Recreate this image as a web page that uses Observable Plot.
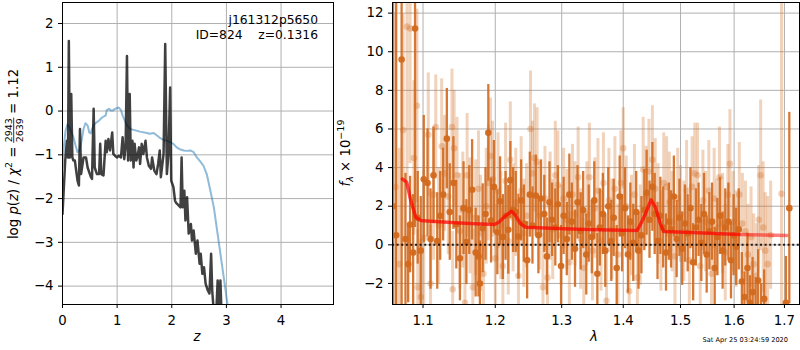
<!DOCTYPE html>
<html><head><meta charset="utf-8">
<script src="https://cdn.jsdelivr.net/npm/d3@7"></script>
<script src="https://cdn.jsdelivr.net/npm/@observablehq/plot@0.6"></script>
<style>
body{margin:0;background:#fff;}
#wrap{position:relative;width:800px;height:350px;background:#fff;}
#wrap svg{position:absolute;top:0;}
</style></head><body><div id="wrap"></div>
<script>
// ---------- Left panel: log p(z) ----------
const zTicks = [0, 1, 2, 3, 4];
const pzTicks = [-4, -3, -2, -1, 0, 1, 2];
const zPdf = [0,0.05,0.08,0.10,0.116,0.134,0.16,0.18,0.20,0.226,
  0.275,0.30,0.32,0.34,0.385,0.43,0.46,0.49,0.52,0.54,
  0.57,0.59,0.63,0.67,0.69,0.71,0.75,0.79,0.81,0.84,
  0.87,0.91,0.93,0.96,1.00,1.03,1.07,1.10,1.13,1.155,
  1.18,1.20,1.23,1.25,1.28,1.30,1.32,1.35,1.37,1.40,
  1.42,1.45,1.48,1.52,1.545,1.58,1.62,1.64,1.68,1.72,
  1.75,1.78,1.80,1.85,1.88,1.91,1.94,1.97,1.99,2.03,
  2.06,2.08,2.13,2.16,2.18,2.20,2.23,2.25,2.28,2.31,
  2.35,2.37,2.40,2.44,2.47,2.51,2.53,2.56,2.59,2.62,
  2.66,2.69,2.72,2.74,2.77,2.80,2.84,2.86,2.89,2.92];
const logPz = [-2.35,-1.13,-0.68,-1.06,1.6,-1.06,0.39,-1.06,-1.13,-1.13,
  -1.59,-1.7,-0.41,-1.44,-1.06,-1.06,-1.29,-1.4,-1.51,-1.55,
  0.05,-1.29,-1.44,-1.44,-0.75,-1.44,-1.47,-0.68,-0.94,-0.64,
  -0.9,-0.49,-0.98,-1.02,-1.06,-1.02,-1.06,-0.6,-1.1,-0.83,
  1.26,-1.13,0.39,-1.13,-0.68,-1.29,-0.75,-1.13,-1.06,-0.83,
  -1.21,-0.75,-0.98,-0.68,-1.06,-1.25,-1.32,-1.06,-1.36,-1.44,
  -1.21,-0.9,-1.51,-0.98,1.53,-1.44,-0.98,0.54,-1.59,-1.74,
  -2.05,-2.1,-2.16,-2.2,-1.06,-2.2,-1.82,-2.5,-1.97,-2.8,
  -2.58,-2.96,-2.73,-3.26,-2.96,-3.49,-3.26,-3.72,-3.57,-3.95,
  -4.1,-4.17,-3.26,-4.1,-4.6,-5.0,-3.87,-4.6,-3.87,-5.0];
const zChi = [0,0.03,0.055,0.09,0.13,0.165,0.2,0.24,0.275,0.31,
  0.35,0.385,0.42,0.46,0.49,0.52,0.54,0.58,0.62,0.67,
  0.71,0.75,0.79,0.81,0.85,0.89,0.92,0.96,1.0,1.03,
  1.07,1.1,1.14,1.18,1.24,1.3,1.42,1.545,1.6,1.67,
  1.73,1.79,1.85,1.91,1.97,2.03,2.09,2.16,2.22,2.28,
  2.34,2.4,2.46,2.52,2.58,2.64,2.7,2.77,2.83,2.89,
  2.95,3.01,3.05];
const chiPz = [-1.29,-0.75,-0.45,-0.31,-0.37,-0.49,-0.6,-0.79,-0.94,-0.9,
  -0.68,-0.41,-0.28,-0.33,-0.49,-0.51,-0.41,-0.31,-0.26,-0.22,
  -0.16,-0.13,-0.1,0.02,0.05,0.01,0.01,0.05,0.07,0.08,
  0.02,-0.1,-0.22,-0.33,-0.41,-0.43,-0.47,-0.5,-0.52,-0.5,
  -0.56,-0.62,-0.66,-0.68,-0.71,-0.75,-0.83,-0.88,-0.9,-0.91,
  -0.9,-0.94,-1.06,-1.15,-1.25,-1.44,-1.78,-2.2,-2.73,-3.26,
  -3.79,-4.33,-4.63];

// ---------- Right panel: spectrum ----------
const lamTicks = [1.1, 1.2, 1.3, 1.4, 1.5, 1.6, 1.7];
const fluxTicks = [-2, 0, 2, 4, 6, 8, 10, 12];
const darkLam = [1.061,1.065,1.072,1.077,1.0805,1.083,1.087,1.0895,1.093,1.097,
  1.101,1.106,1.110,1.114,1.119,1.123,1.127,1.132,1.136,1.141,
  1.145,1.150,1.155,1.159,1.163,1.167,1.172,1.176,1.178,1.182,
  1.186,1.190,1.194,1.198,1.203,1.207,1.211,1.215,1.219,1.222,
  1.226,1.230,1.234,1.238,1.242,1.247,1.251,1.255,1.260,1.264,
  1.268,1.273,1.277,1.281,1.285,1.290,1.294,1.299,1.303,1.308,
  1.312,1.316,1.321,1.325,1.330,1.334,1.339,1.343,1.348,1.352,
  1.357,1.361,1.366,1.370,1.375,1.380,1.384,1.389,1.394,1.398,
  1.403,1.408,1.412,1.417,1.422,1.426,1.431,1.436,1.440,1.445,
  1.450,1.454,1.459,1.464,1.469,1.474,1.479,1.483,1.488,1.493,
  1.498,1.503,1.508,1.513,1.518,1.523,1.528,1.533,1.538,1.543,
  1.548,1.553,1.558,1.563,1.568,1.573,1.578,1.583,1.589,1.594,
  1.599,1.604,1.609,1.615,1.620,1.626,1.631,1.636,1.642,1.647,
  1.653,1.659,1.703,1.710];
const darkFlux = [2.0,0.5,9.6,0.3,-1.0,1.05,-0.4,11.2,1.4,-0.3,
  3.4,3.2,0.3,3.6,0.2,1.5,2.6,5.5,1.7,3.2,
  1.05,-0.7,1.9,0.14,1.8,2.85,-0.4,-0.6,-2.0,0.86,
  1.6,5.8,1.26,3.0,0.65,2.26,0.4,1.5,0.78,3.35,
  1.8,1.7,0.43,2.3,1.1,-0.8,2.6,1.0,2.55,0.5,
  2.4,1.6,-0.6,2.2,1.3,0.9,2.1,-1.1,1.5,0.3,
  2.6,1.2,-0.2,2.2,0.7,1.8,-0.5,1.1,0.4,2.3,
  -1.5,0.9,1.6,-0.3,2.0,0.2,1.4,-1.2,2.5,0.6,
  1.9,-0.5,1.2,0.1,1.7,-0.3,0.5,1.8,2.7,1.3,
  3.0,1.6,0.2,1.5,0.9,-0.4,1.2,0.8,2.5,0.3,
  1.4,-0.2,1.1,0.6,1.9,-0.9,0.9,1.3,0.1,1.6,
  -0.5,0.7,1.2,-1.2,0.4,1.5,-0.3,0.9,1.2,-0.8,
  0.5,-0.1,0.8,-1.9,-2.7,-1.2,-3.0,-2.45,-3.3,-1.85,
  -3.5,-2.8,-3.0,1.9];
const darkErr = [20,15,14,3.4,2.0,2.5,3.0,10.3,2.4,2.8,
  3.3,2.8,2.6,2.5,2.5,2.3,2.4,2.6,2.5,2.4,
  2.3,2.2,2.4,2.2,2.3,2.6,2.3,2.1,2.2,2.3,
  2.4,2.5,2.2,2.4,2.2,2.3,2.2,2.3,2.3,2.0,
  2.2,2.1,2.2,2.1,2.0,2.0,2.2,2.0,2.1,2.0,
  2.0,2.0,2.0,2.1,1.9,2.0,2.0,2.1,2.0,1.9,
  2.1,2.0,2.0,1.9,2.0,2.0,2.1,2.0,1.9,2.0,
  2.1,2.0,2.1,1.9,2.0,2.1,2.0,2.2,2.1,2.0,
  2.1,2.0,2.0,2.0,2.1,2.0,2.0,2.1,2.2,2.0,
  2.3,2.1,2.0,2.0,2.1,2.0,2.0,2.0,2.1,2.0,
  2.0,1.9,2.0,2.0,2.1,2.0,2.0,1.9,2.0,2.1,
  2.0,2.0,2.0,2.1,2.0,2.0,2.0,2.0,2.0,2.0,
  2.1,2.0,2.1,1.5,1.3,1.8,1.4,1.8,1.6,1.6,
  1.5,1.5,2.4,4.96];
const lightLam = [1.064,1.069,1.074,1.079,1.083,1.088,1.092,1.093,1.097,1.101,
  1.107,1.110,1.114,1.117,1.121,1.125,1.129,1.134,1.139,1.140,
  1.142,1.146,1.150,1.154,1.157,1.160,1.164,1.168,1.172,1.176,
  1.179,1.183,1.187,1.190,1.193,1.196,1.200,1.204,1.208,1.211,
  1.215,1.219,1.222,1.226,1.230,1.234,1.238,1.242,1.246,1.252,
  1.255,1.258,1.262,1.266,1.271,1.274,1.278,1.282,1.286,1.290,
  1.294,1.299,1.303,1.308,1.312,1.317,1.321,1.326,1.330,1.335,
  1.340,1.344,1.349,1.353,1.358,1.363,1.367,1.372,1.376,1.381,
  1.386,1.391,1.396,1.400,1.405,1.410,1.414,1.419,1.424,1.429,
  1.434,1.439,1.444,1.450,1.455,1.460,1.465,1.470,1.475,1.480,
  1.485,1.490,1.495,1.500,1.506,1.511,1.516,1.521,1.526,1.531,
  1.536,1.541,1.546,1.552,1.557,1.562,1.567,1.572,1.578,1.583,
  1.588,1.592,1.598,1.604,1.610,1.616,1.622,1.627,1.633,1.638,
  1.644,1.648,1.652,1.657,1.661,1.666,1.672,1.694];
const lightFlux = [3.0,-1.0,5.95,11.3,11.2,4.5,7.2,-2.2,-2.7,0.36,
  5.7,-2.0,2.6,6.1,1.0,5.1,3.7,2.5,6.1,-2.3,
  5.0,3.6,0.7,1.8,-3.0,3.6,1.5,-2.2,1.4,2.9,
  0.6,-1.5,2.0,3.2,4.6,3.4,-0.7,2.8,1.0,-1.1,
  3.3,0.2,4.4,1.4,2.2,-1.6,2.8,0.6,1.5,6.0,
  3.7,4.5,4.3,1.5,-2.2,2.4,-1.7,2.0,0.8,3.6,
  3.1,0.5,2.4,1.3,-0.9,2.6,1.6,3.5,0.3,-1.2,
  1.6,3.5,-0.3,1.9,2.8,0.2,3.2,-2.9,2.3,0.8,
  2.9,-0.5,3.2,5.0,2.0,-2.4,1.0,2.6,-1.7,0.5,
  3.9,2.5,3.8,4.4,2.9,1.6,0.2,3.2,3.0,2.2,
  1.2,-0.6,2.4,1.6,0.7,2.8,-0.8,3.0,3.7,3.6,
  -1.1,2.3,1.2,2.8,-1.5,2.4,0.9,3.5,1.1,-0.4,
  2.6,4.2,1.2,0.3,2.6,1.1,0.7,-0.5,0.4,-1.0,
  -1.6,1.3,3.6,0.9,-0.3,-1.0,0.5,2.64];
const lightErr = [9,6,6,8,7,4,5,3,3,3.5,
  3.2,3,3.4,2.7,3,3.5,3,3,3,3,
  3,3,3,3,3,3.2,3,3,3,3,
  3,2.8,3,3,3,3,2.8,3,2.8,3,
  3,2.8,3,2.8,2.8,2.9,2.8,2.8,2.7,3,
  2.7,2.8,2.8,2.8,2.8,2.7,2.6,2.8,2.6,2.8,
  2.8,2.6,2.6,2.6,2.6,2.6,2.7,2.6,2.6,2.6,
  2.7,2.8,2.6,2.6,2.7,2.6,2.6,2.6,2.7,2.6,
  2.7,2.6,2.7,2.1,2.6,2.6,2.6,2.6,2.6,2.6,
  2.7,2.6,2.7,2.8,2.6,2.6,2.6,2.6,2.6,2.6,
  2.6,2.6,2.6,2.5,2.6,2.6,2.5,2.6,2.6,2.7,
  2.5,2.6,2.6,2.6,2.6,2.6,2.5,2.6,2.6,2.5,
  2.6,2.8,2.6,2.5,2.7,2.6,2.6,2.6,2.6,2.6,
  2.7,2.8,3.9,3.4,3.0,3.5,2.8,20];
const modelLam = [1.073,1.0787,1.0839,1.0904,1.097,1.110,1.156,1.198,1.2053,1.2125,
  1.2238,1.2297,1.2371,1.2446,1.3033,1.3567,1.4235,1.4292,1.4378,1.4477,
  1.4552,1.464,1.4698,1.530,1.6104,1.7049];
const modelFlux = [3.41,3.24,2.29,1.43,1.26,1.22,1.12,1.05,1.17,1.43,
  1.74,1.52,1.09,0.91,0.83,0.78,0.74,1.05,1.6,2.33,
  1.95,1.09,0.69,0.62,0.53,0.48];

const FONT = "DejaVu Sans";
const GRID = "#b0b0b0";
const DARK = "#d2691e";
const wrap = document.getElementById("wrap");

const pdfRows = zPdf.map((z, i) => ({z, v: logPz[i]}));
const chiRows = zChi.map((z, i) => ({z, v: chiPz[i]}));
const darkRows = darkLam.map((l, i) => ({l, f: darkFlux[i], e: darkErr[i]}));
const lightRows = lightLam.map((l, i) => ({l, f: lightFlux[i], e: lightErr[i]}));
const modelRows = modelLam.map((l, i) => ({l, f: modelFlux[i]}));

const common = {height: 350, marginTop: 2, marginBottom: 46,
  style: {fontFamily: FONT, fontSize: "13.3px", background: "transparent", color: "black"}};

const left = Plot.plot({
  ...common, width: 335, marginLeft: 62, marginRight: 2,
  x: {domain: [0, 4.96]},
  y: {domain: [-4.42, 2.48]},
  marks: [
    Plot.gridX(zTicks, {stroke: GRID, strokeOpacity: 1, strokeWidth: 1}),
    Plot.gridY(pzTicks, {stroke: GRID, strokeOpacity: 1, strokeWidth: 1}),
    Plot.line(chiRows, {x: "z", y: "v", stroke: "#1f77b4", strokeOpacity: 0.5, strokeWidth: 2, clip: true}),
    Plot.line(pdfRows, {x: "z", y: "v", stroke: "black", strokeOpacity: 0.75, strokeWidth: 2.5, clip: true}),
    Plot.frame({stroke: "black"}),
    Plot.axisX(zTicks, {anchor: "bottom", tickSize: 4, tickPadding: 7, label: null, tickFormat: d3.format("d")}),
    Plot.axisY(pzTicks, {anchor: "left", tickSize: 4, tickPadding: 5, label: null, tickFormat: d3.format("d")})
  ]
});
left.style.left = "0px";
wrap.appendChild(left);

const right = Plot.plot({
  ...common, width: 465, marginLeft: 57, marginRight: 1,
  x: {type: "log", domain: [1.0603, 1.7311]},
  y: {domain: [-3.09, 12.55]},
  marks: [
    Plot.gridX(lamTicks, {stroke: GRID, strokeOpacity: 1, strokeWidth: 1}),
    Plot.gridY(fluxTicks, {stroke: GRID, strokeOpacity: 1, strokeWidth: 1}),
    Plot.ruleX(lightRows, {x: "l", y1: d => d.f - d.e, y2: d => d.f + d.e, stroke: DARK, strokeOpacity: 0.3, strokeWidth: 3, clip: true}),
    Plot.dot(lightRows, {x: "l", y: "f", r: 3.3, fill: DARK, fillOpacity: 0.3, clip: true}),
    Plot.ruleX(darkRows, {x: "l", y1: d => d.f - d.e, y2: d => d.f + d.e, stroke: DARK, strokeOpacity: 0.9, strokeWidth: 2.3, clip: true}),
    Plot.dot(darkRows, {x: "l", y: "f", r: 3.3, fill: DARK, fillOpacity: 0.95, clip: true}),
    Plot.ruleY([0], {stroke: "black", strokeOpacity: 0.85, strokeWidth: 2, strokeDasharray: "2,2.6"}),
    Plot.line(modelRows, {x: "l", y: "f", stroke: "red", strokeOpacity: 0.5, strokeWidth: 3.5, clip: true}),
    Plot.line(modelRows, {filter: d => d.l < 1.62, x: "l", y: "f", stroke: "red", strokeOpacity: 0.45, strokeWidth: 3, clip: true}),
    Plot.frame({stroke: "black"}),
    Plot.axisX(lamTicks, {anchor: "bottom", tickSize: 4, tickPadding: 7, label: null, tickFormat: d3.format(".1f")}),
    Plot.axisY(fluxTicks, {anchor: "left", tickSize: 4, tickPadding: 5, label: null, tickFormat: d3.format("d")})
  ]
});
right.style.left = "335px";
wrap.appendChild(right);

// Rich text: one <text> with tspans, centred at (cx, cy), optionally rotated
function richText(svg, cx, cy, rotate, pieces) {
  const g = d3.select(svg).append("g").attr("transform", `translate(${cx},${cy}) rotate(${rotate})`);
  const text = g.append("text").attr("text-anchor", "middle").attr("font-family", FONT)
    .attr("font-size", 13.3).attr("fill", "black").attr("y", 4.7);
  let cur = 0, idx = 0;
  const fracs = [];
  for (const p of pieces) {
    if (p.num) {
      const size = p.size;
      text.append("tspan").text(p.num).attr("font-size", size).attr("dy", -6 - cur);
      const w = p.num.length * 0.6362 * size;
      text.append("tspan").text(p.den).attr("font-size", size).attr("dx", -w).attr("dy", 11.5);
      cur = 5.5;
      fracs.push({start: idx, n: p.num.length});
      idx += p.num.length + p.den.length;
    } else {
      const dy = (p.dy || 0) - cur; cur = p.dy || 0;
      const ts = text.append("tspan").text(p.t).attr("dy", dy);
      if (p.size) ts.attr("font-size", p.size);
      if (p.it) ts.attr("font-style", "italic");
      idx += p.t.length;
    }
  }
  for (const f of fracs) {
    const a = text.node().getExtentOfChar(f.start);
    const b = text.node().getExtentOfChar(f.start + f.n - 1);
    g.append("line").attr("x1", a.x - 0.5).attr("x2", b.x + b.width + 0.5)
      .attr("y1", 0.7).attr("y2", 0.7).attr("stroke", "black").attr("stroke-width", 0.8);
  }
}

richText(left, 13, 154, -90, [
  {t: "log "}, {t: "p", it: true}, {t: "("}, {t: "z", it: true}, {t: ") / "},
  {t: "χ", it: true}, {t: "2", size: 9.5, dy: -5.5}, {t: " = "},
  {num: "2943", den: "2639", size: 9.5}, {t: " = 1.12"}
]);
richText(right, 10, 153, -90, [
  {t: "f", it: true}, {t: "λ", it: true, size: 9.5, dy: 3}, {t: " × 10"}, {t: "−19", size: 9.5, dy: -5.5}
]);
richText(left, 197, 336, 0, [{t: "z", it: true}]);
richText(right, 259, 336, 0, [{t: "λ", it: true}]);

const L = d3.select(left);
L.append("text").attr("x", 318).attr("y", 24).attr("text-anchor", "end")
  .attr("font-family", FONT).attr("font-size", 12.3).attr("fill", "black").text("j161312p5650");
L.append("text").attr("x", 318).attr("y", 39).attr("text-anchor", "end")
  .attr("font-family", FONT).attr("font-size", 12.3).attr("fill", "black").text("ID=824\u00a0\u00a0\u00a0\u00a0z=0.1316");
d3.select(right).append("text").attr("x", 453).attr("y", 342).attr("text-anchor", "end")
  .attr("font-family", FONT).attr("font-size", 6.6).attr("fill", "black").text("Sat Apr 25 03:24:59 2020");
</script></body></html>
